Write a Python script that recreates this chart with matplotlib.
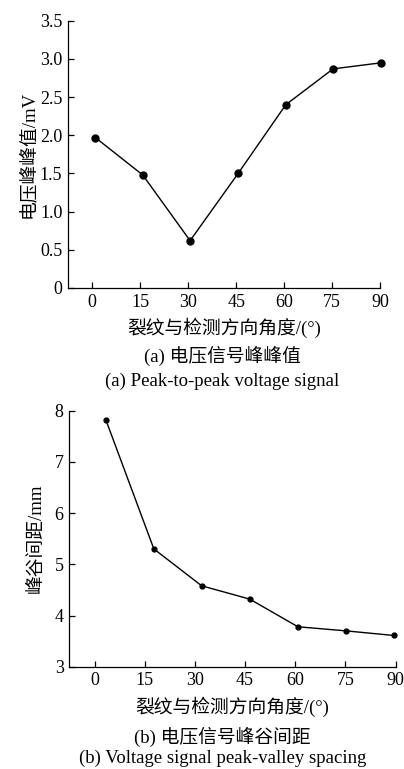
import matplotlib
matplotlib.use('Agg')
import matplotlib.pyplot as plt
import numpy as np

plt.rcParams['font.family'] = ['Liberation Serif', 'Noto Sans CJK SC']
plt.rcParams['font.size'] = 13.5
plt.rcParams['axes.unicode_minus'] = False

# (a) peak-to-peak voltage
angle_a = [1, 15.8, 30.6, 45.6, 60.5, 75.3, 90.4]
vpp = [1.97, 1.48, 0.62, 1.50, 2.40, 2.87, 2.95]
yticks_a = [0, 0.5, 1.0, 1.5, 2.0, 2.5, 3.0, 3.5]
ylabels_a = ['0', '0.5', '1.0', '1.5', '2.0', '2.5', '3.0', '3.5']

# (b) peak-valley spacing
angle_b = [3.4, 17.7, 32.0, 46.4, 60.8, 75.2, 89.5]
spacing = [7.81, 5.30, 4.58, 4.32, 3.78, 3.70, 3.61]
yticks_b = [3, 4, 5, 6, 7, 8]

xticks = [0, 15, 30, 45, 60, 75, 90]


def style_axes(ax):
	ax.spines['top'].set_visible(False)
	ax.spines['right'].set_visible(False)
	for s in ('left', 'bottom'):
		ax.spines[s].set_linewidth(0.9)
	ax.tick_params(direction='in', length=4, width=0.9, labelsize=13, pad=4)
	ax.set_xticks(xticks)
	ax.set_xlim(-7.6, 90)


fig = plt.figure(figsize=(4.04, 7.69), dpi=100)

ax1 = fig.add_axes([0.168, 0.6255, 0.773, 0.3475])
ax1.plot(angle_a, vpp, color='k', lw=1.0, marker='o', ms=5, clip_on=False)
style_axes(ax1)
ax1.set_ylim(0, 3.5)
ax1.set_yticks(yticks_a)
ax1.set_yticklabels(ylabels_a)
ax1.set_ylabel('电压峰峰值/mV', fontsize=13.5, labelpad=2)
ax1.set_xlabel('裂纹与检测方向角度/(°)', fontsize=13.5, labelpad=5)

ax2 = fig.add_axes([0.1715, 0.133, 0.8075, 0.333])
ax2.plot(angle_b, spacing, color='k', lw=1.0, marker='o', ms=3.5, clip_on=False)
style_axes(ax2)
ax2.set_ylim(3, 8)
ax2.set_yticks(yticks_b)
ax2.set_ylabel('峰谷间距/mm', fontsize=13.5, labelpad=7)
ax2.set_xlabel('裂纹与检测方向角度/(°)', fontsize=13.5, labelpad=5)

fig.text(0.55, 1 - 356 / 769, '(a) 电压信号峰峰值', ha='center', va='center', fontsize=13.5)
fig.text(0.55, 1 - 381 / 769, '(a) Peak-to-peak voltage signal', ha='center', va='center', fontsize=13.5)
fig.text(0.55, 1 - 737 / 769, '(b) 电压信号峰谷间距', ha='center', va='center', fontsize=13.5)
fig.text(0.55, 1 - 758 / 769, '(b) Voltage signal peak-valley spacing', ha='center', va='center', fontsize=13.5)

fig.savefig('out.png', dpi=100)
